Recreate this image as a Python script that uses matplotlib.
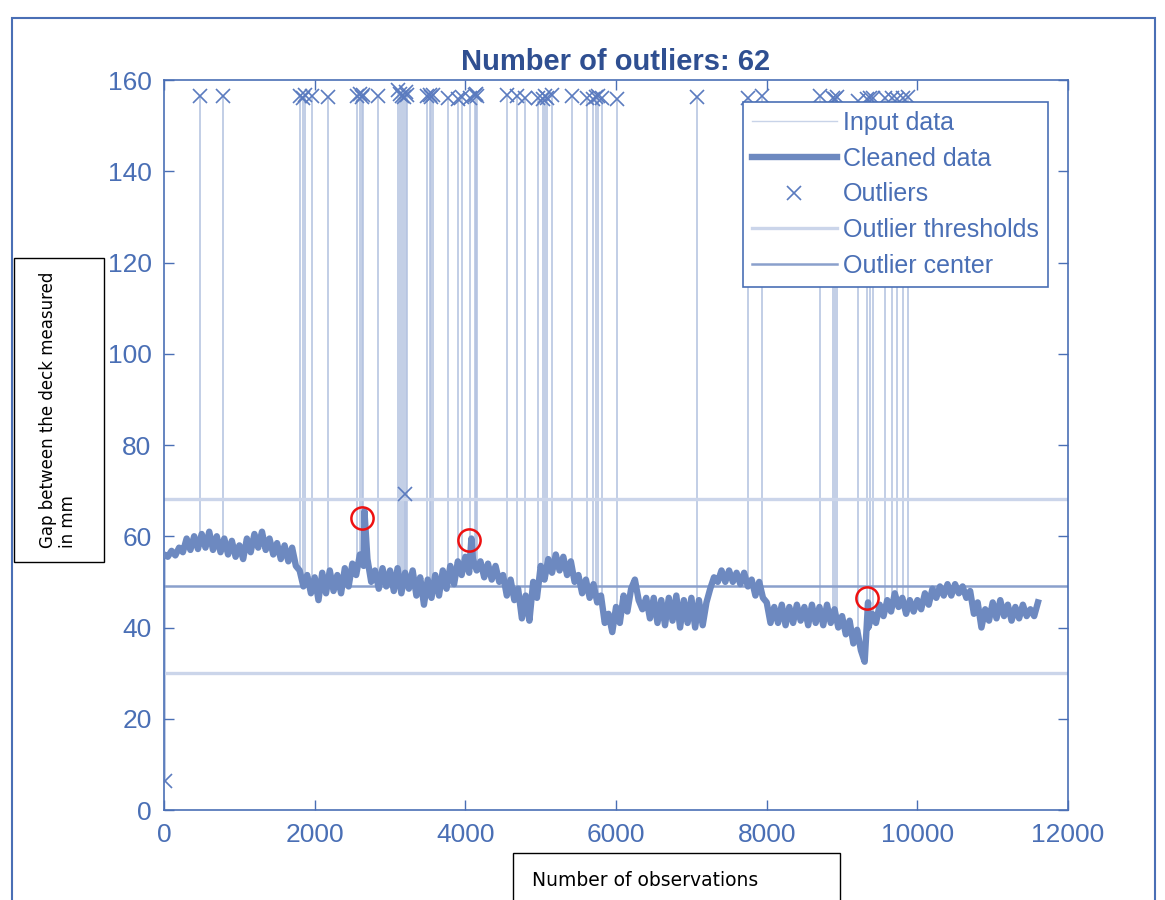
import numpy as np
import matplotlib
matplotlib.use("Agg")
import matplotlib.pyplot as plt
from matplotlib.patches import Rectangle

# Cleaned data, one value every 50 observations (0 ... 11600)
cleaned_vals = [
    56.0, 55.5, 56.8, 55.8, 57.5, 56.5, 59.5, 57.0, 60.0, 57.2,
    60.5, 57.5, 61.0, 57.0, 60.0, 56.5, 59.5, 56.0, 59.0, 55.5,
    58.0, 55.0, 59.5, 56.5, 60.5, 57.5, 61.0, 57.0, 59.5, 56.0,
    58.5, 55.0, 58.0, 54.5, 57.5, 53.5, 52.5, 49.0, 51.5, 47.5,
    51.0, 46.0, 52.0, 47.5, 52.5, 48.0, 51.5, 47.5, 53.0, 49.0,
    54.0, 51.5, 56.0, 53.5, 55.0, 50.0, 52.5, 48.5, 53.0, 49.0,
    52.5, 48.0, 53.0, 47.5, 52.0, 48.5, 52.5, 47.0, 51.0, 45.0,
    50.5, 46.5, 51.5, 47.0, 52.5, 48.5, 53.5, 49.5, 54.5, 51.5,
    55.5, 52.0, 55.0, 52.5, 54.5, 51.0, 54.0, 50.5, 53.5, 50.0,
    51.5, 47.0, 50.5, 46.0, 48.5, 42.0, 47.0, 41.5, 50.0, 46.5,
    53.5, 50.5, 55.0, 52.0, 56.0, 52.5, 55.5, 51.5, 54.5, 50.0,
    51.5, 47.5, 50.5, 46.5, 49.5, 45.5, 47.0, 41.0, 43.0, 39.0,
    44.5, 41.0, 47.0, 43.5, 48.5, 50.5, 46.0, 44.0, 46.5, 42.0,
    46.5, 41.0, 46.0, 40.5, 46.5, 41.5, 47.0, 40.0, 46.0, 41.0,
    46.5, 40.0, 46.0, 40.5, 45.5, 48.5, 51.0, 50.0, 52.5, 50.0,
    52.5, 50.0, 52.0, 49.5, 52.0, 49.0, 50.5, 47.0, 50.0, 46.5,
    45.5, 41.0, 44.5, 41.0, 45.0, 40.5, 44.5, 41.0, 45.0, 41.5,
    44.5, 40.5, 45.0, 41.0, 44.5, 40.5, 45.0, 41.0, 44.0, 40.0,
    42.5, 38.5, 41.5, 36.5, 39.5, 35.0, 32.5, 40.0, 43.0, 41.0,
    45.0, 42.5, 46.0, 43.5, 47.5, 44.5, 46.5, 43.0, 46.0, 43.5,
    46.0, 44.0, 47.5, 45.0, 48.5, 46.5, 49.0, 47.0, 49.5, 47.0,
    49.5, 47.5, 49.0, 46.5, 48.0, 43.0, 45.5, 40.0, 44.0, 41.5,
    45.5, 42.0, 46.0, 42.5, 45.0, 41.5, 44.5, 42.0, 45.0, 42.5,
    44.0, 42.5, 45.5,
]
# small single-sample spikes left in the cleaned data (circled)
spike_x = [2660, 4080, 9345]
spike_y = [65.5, 59.5, 45.5]

# Outliers (observation index, value)
outlier_x = [10, 3200,
             478, 783, 1805, 1845, 1872, 1965, 2177, 2562, 2602, 2628, 2642,
             2841, 3106, 3133, 3159, 3186, 3213, 3226, 3491, 3531, 3544, 3571,
             3770, 3903, 3956, 4062, 4128, 4142, 4155, 4553, 4686, 4792, 4965,
             5031, 5058, 5084, 5151, 5416, 5615, 5695, 5735, 5761, 5814, 6014,
             7076, 7753, 7939, 8709, 8881, 8908, 8934, 9213, 9332, 9372, 9412,
             9571, 9664, 9730, 9810, 9876]
outlier_y = [6.4, 69.3,
             156.5, 156.5, 156.5, 156.0, 156.8, 156.5, 156.3, 156.5, 157.0, 156.3, 156.8,
             156.5, 157.8, 157.0, 156.5, 156.3, 157.3, 156.8, 156.5, 156.8, 156.3, 156.8,
             156.0, 155.8, 156.3, 156.0, 156.8, 157.0, 156.5, 156.8, 156.5, 156.0, 156.0,
             155.8, 156.5, 156.0, 156.8, 156.5, 156.0, 155.8, 156.3, 156.5, 156.0, 155.8,
             156.3, 156.0, 156.5, 156.5, 156.0, 155.8, 156.3, 155.5, 155.8, 156.0, 156.0,
             156.0, 156.0, 155.8, 156.0, 156.3]

thr_upper = 68.2
thr_lower = 30.1
center = 49.1

# circled points
circle_x = [2628, 4049, 9332]
circle_y = [64.0, 59.2, 46.5]

xticks = list(range(0, 12001, 2000))
yticks = list(range(0, 161, 20))

blue = "#4a6fb5"
plt.rcParams["font.family"] = ["Liberation Sans", "DejaVu Sans"]

fig = plt.figure(figsize=(11.65, 9), dpi=100)
ax = fig.add_axes([0.1408, 0.1, 0.7760, 0.8111])

cx = np.arange(0, 11601, 50)
cy = np.array(cleaned_vals)
allx = np.concatenate([cx, spike_x])
ally = np.concatenate([cy, spike_y])
order = np.argsort(allx, kind="stable")
allx, ally = allx[order], ally[order]

# input data: cleaned curve plus the vertical excursions to the outliers
base = np.interp(outlier_x, allx, ally)
ax.plot(allx, ally, color="#c8d3e8", lw=1.0, label="Input data", zorder=1)
ax.vlines(outlier_x, base, outlier_y, color="#b3c2e0", lw=1.4, alpha=0.8, zorder=1)

ax.plot(allx, ally, color="#6d89c0", lw=4.6, label="Cleaned data", zorder=3)
ax.plot(outlier_x, outlier_y, ls="none", marker="x", ms=10, mew=1.2,
        color="#5b7bbf", label="Outliers", zorder=4)
ax.axhline(thr_upper, color="#cbd5ea", lw=2.4, label="Outlier thresholds", zorder=2)
ax.axhline(thr_lower, color="#cbd5ea", lw=2.4, zorder=2)
ax.axhline(center, color="#8aa0cc", lw=1.8, label="Outlier center", zorder=2)

ax.plot(circle_x, circle_y, ls="none", marker="o", ms=16, mfc="none",
        mec="#ee1111", mew=1.8, zorder=5)

ax.set_xlim(0, 12000)
ax.set_ylim(0, 160)
ax.set_xticks(xticks)
ax.set_yticks(yticks)
ax.tick_params(direction="in", length=7, width=1, colors=blue, labelsize=19,
               top=True, right=True, pad=9)
for s in ax.spines.values():
    s.set_color(blue)
    s.set_linewidth(1.2)

ax.set_title("Number of outliers: 62", fontsize=21, fontweight="bold",
             color="#2f4f91", pad=7)

leg = ax.legend(loc="upper left", bbox_to_anchor=(743 / 1165, 1 - 102 / 900),
                bbox_transform=fig.transFigure, fontsize=18, handlelength=3.4,
                handletextpad=0.25, labelspacing=0.47, borderpad=0.35,
                fancybox=False, framealpha=1, borderaxespad=0)
leg.get_frame().set_edgecolor(blue)
leg.get_frame().set_linewidth(1.2)
for t in leg.get_texts():
    t.set_color(blue)

# figure border
fig.patches.append(Rectangle((12 / 1165, -0.05), (1155 - 12) / 1165, 1.05 - 18 / 900,
                             transform=fig.transFigure, fill=False,
                             edgecolor=blue, lw=1.5))

# boxed axis labels
narrow = ["Liberation Sans Narrow", "DejaVu Sans"]
fig.patches.append(Rectangle((14 / 1165, 1 - 562 / 900), 90 / 1165, 304 / 900,
                             transform=fig.transFigure, facecolor="white",
                             edgecolor="black", lw=1.0, zorder=10))
fig.text(58 / 1165, 1 - 410 / 900, "Gap between the deck measured\nin mm",
         rotation=90, ha="center", va="center", multialignment="left",
         fontsize=12, family=narrow, zorder=11)
fig.patches.append(Rectangle((513 / 1165, -0.02), 327 / 1165, 0.02 + 47 / 900,
                             transform=fig.transFigure, facecolor="white",
                             edgecolor="black", lw=1.0, zorder=10))
fig.text(532 / 1165, 1 - 880 / 900, "Number of observations", ha="left",
         va="center", fontsize=13.5, family=narrow, zorder=11)

fig.savefig("out.png", dpi=100)
